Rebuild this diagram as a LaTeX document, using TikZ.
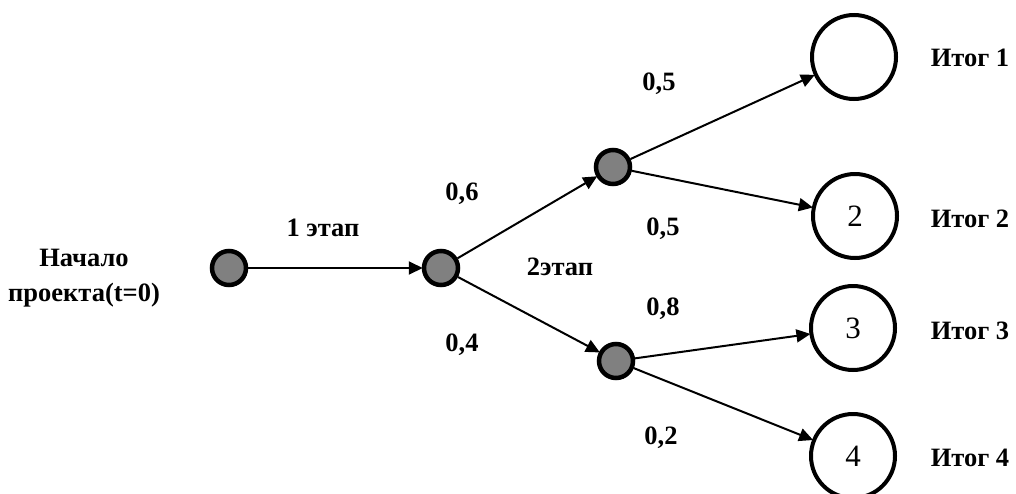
\documentclass[tikz,border=0pt]{standalone}
\usepackage{fontspec}
\setmainfont{Liberation Serif}
\usetikzlibrary{arrows.meta}
\begin{document}
\begin{tikzpicture}[x=1pt,y=-1pt,
  chance/.style={circle,draw,line width=4.5pt,fill=black!50,minimum size=34pt,inner sep=0pt},
  outcome/.style={circle,draw,line width=4pt,minimum size=84pt,inner sep=0pt,font=\fontsize{31}{33}\selectfont},
  lbl/.style={font=\bfseries\fontsize{26.5}{30}\selectfont,inner sep=0pt,align=center},
  branch/.style={line width=2pt,-{Triangle[length=14pt,width=13pt]},shorten >=-1pt}]
\useasboundingbox (0,0) rectangle (1016,493);
% decision tree nodes
\node[chance] (s) at (229,268) {};
\node[chance] (m) at (441,268) {};
\node[chance] (u) at (613,167) {};
\node[chance] (d) at (616,361) {};
\node[outcome] (o1) at (854,57) {};
\node[outcome] (o2) at (855,216) {2};
\node[outcome] (o3) at (853,328) {3};
\node[outcome] (o4) at (853,456) {4};
% branches
\draw[branch] (s) -- (m);
\draw[branch] (m) -- (u);
\draw[branch] (m) -- (d);
\draw[branch] (u) -- (o1);
\draw[branch] (u) -- (o2);
\draw[branch] (d) -- (o3);
\draw[branch] (d) -- (o4);
% labels
\node[lbl] (start) at (84,278) {Начало\\[5pt]проекта(t=0)};
\node[lbl] (e1) at (323,228) {1 этап};
\node[lbl] (e2) at (560,267) {2этап};
\node[lbl] (p6) at (462,194) {0,6};
\node[lbl] (p4) at (462,345) {0,4};
\node[lbl] (p5a) at (659,84) {0,5};
\node[lbl] (p5b) at (663,229) {0,5};
\node[lbl] (p8) at (663,309) {0,8};
\node[lbl] (p2) at (661,438) {0,2};
\node[lbl] (r1) at (970,58) {Итог 1};
\node[lbl] (r2) at (970,219) {Итог 2};
\node[lbl] (r3) at (970,331) {Итог 3};
\node[lbl] (r4) at (970,458) {Итог 4};
\end{tikzpicture}
\end{document}
